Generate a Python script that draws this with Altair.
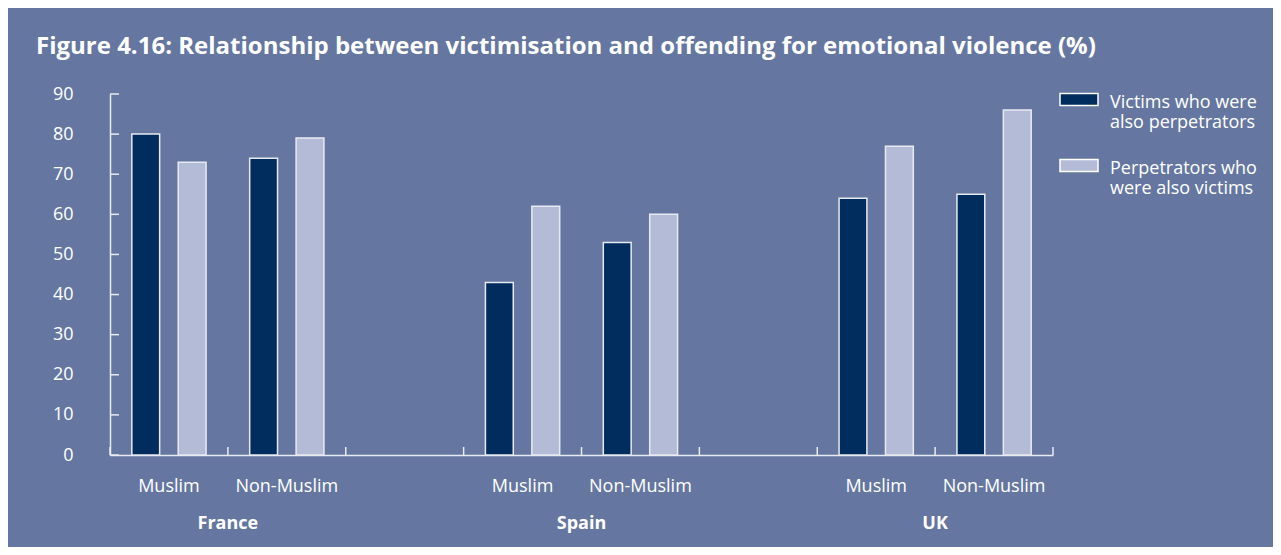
import altair as alt
import pandas as pd

# ---- data ----
countries = ["France", "France", "Spain", "Spain", "UK", "UK"]
groups = ["Muslim", "Non-Muslim", "Muslim", "Non-Muslim", "Muslim", "Non-Muslim"]
victims_also_perpetrators = [80, 74, 43, 53, 64, 65]
perpetrators_also_victims = [73, 79, 62, 60, 77, 86]
series = ["Victims who were also perpetrators", "Perpetrators who were also victims"]
series_lines = [["Victims who were", "also perpetrators"], ["Perpetrators who", "were also victims"]]
slots = ["France|Muslim", "France|Non-Muslim", "gap1",
         "Spain|Muslim", "Spain|Non-Muslim", "gap2",
         "UK|Muslim", "UK|Non-Muslim"]
y_ticks = [0, 10, 20, 30, 40, 50, 60, 70, 80, 90]
country_names = ["France", "Spain", "UK"]
title_text = "Figure 4.16: Relationship between victimisation and offending for emotional violence (%)"

# ---- style ----
BG = "#6577A0"
DARK = "#002C5E"
LIGHT = "#B4BBD6"
LINE = "#E8EAF2"
FONT = "Open Sans"
W, H = 943, 361

rows = []
for c, g, v, p in zip(countries, groups, victims_also_perpetrators, perpetrators_also_victims):
    rows.append({"slot": f"{c}|{g}", "series": series[0], "value": v})
    rows.append({"slot": f"{c}|{g}", "series": series[1], "value": p})
df = pd.DataFrame(rows)

label_expr = (f"datum.label == '{series[0]}' ? {series_lines[0]} : {series_lines[1]}")

x_scale = alt.Scale(domain=slots, paddingInner=0, paddingOuter=0)
y_scale = alt.Scale(domain=[0, 90], nice=False)

x_axis = alt.Axis(labelExpr="indexof(datum.value, '|') > 0 ? split(datum.value, '|')[1] : ''",
                  ticks=False, domainColor=LINE, domainWidth=1.5,
                  labelColor="white", labelFont=FONT, labelFontSize=18,
                  labelPadding=22, labelAngle=0, grid=False, labelLimit=200)
y_axis = alt.Axis(values=y_ticks, ticks=False, domainColor=LINE, domainWidth=1.5,
                  labelColor="white", labelFont=FONT, labelFontSize=18,
                  labelPadding=37, grid=False)

bars = alt.Chart(df).mark_bar(stroke=LINE, strokeWidth=1.5).encode(
    x=alt.X("slot:N", scale=x_scale, sort=slots, title=None, axis=x_axis),
    xOffset=alt.XOffset("series:N", sort=series,
                        scale=alt.Scale(domain=series, paddingInner=0.4, paddingOuter=0.47)),
    y=alt.Y("value:Q", scale=y_scale, title=None, axis=y_axis),
    color=alt.Color("series:N", sort=series,
                    scale=alt.Scale(domain=series, range=[DARK, LIGHT]),
                    legend=alt.Legend(title=None, orient="none", legendX=949, legendY=-20,
                                      labelExpr=label_expr, labelFont=FONT, labelFontSize=18,
                                      labelColor="white", labelLimit=400, labelBaseline="top",
                                      labelOffset=11,
                                      symbolType="M-1,-0.03H1V0.61H-1Z", symbolSize=1444,
                                      symbolStrokeColor="white", symbolStrokeWidth=1.5,
                                      symbolOpacity=1, rowPadding=8)),
)

ytick_df = pd.DataFrame({"value": y_ticks})
yticks = alt.Chart(ytick_df).mark_rule(color=LINE, strokeWidth=1.5).encode(
    y=alt.Y("value:Q", scale=y_scale, title=None, axis=y_axis),
    x=alt.value(0), x2=alt.value(9),
)

xtick_df = pd.DataFrame({"slot": slots})
xticks = alt.Chart(xtick_df).mark_rule(color=LINE, strokeWidth=1.5).encode(
    x=alt.X("slot:N", scale=x_scale, sort=slots, bandPosition=0, title=None, axis=x_axis),
    y=alt.value(H), y2=alt.value(H - 8),
)
xtick_end = alt.Chart(pd.DataFrame({"slot": [slots[-1]]})).mark_rule(color=LINE, strokeWidth=1.5).encode(
    x=alt.X("slot:N", scale=x_scale, sort=slots, bandPosition=1, title=None, axis=x_axis),
    y=alt.value(H), y2=alt.value(H - 8),
)

country_df = pd.DataFrame({"country": country_names,
                           "slot": [f"{c}|Non-Muslim" for c in country_names]})
country_text = alt.Chart(country_df).mark_text(
    font=FONT, fontSize=18, fontWeight="bold", color="white", baseline="middle"
).encode(
    x=alt.X("slot:N", scale=x_scale, sort=slots, bandPosition=0, title=None, axis=x_axis),
    y=alt.value(H + 69),
    text="country:N",
)

chart = alt.layer(bars, yticks, xticks, xtick_end, country_text).properties(
    width=W, height=H,
    background=BG,
    autosize=alt.AutoSizeParams(type="none"),
    padding={"left": 102, "top": 86, "right": 220, "bottom": 92},
    title=alt.TitleParams(title_text, anchor="start", frame="group", dx=-74, offset=15,
                          font=FONT, fontSize=24, fontWeight="bold", color="white"),
).configure_view(stroke=None)

chart.save("out.html", embed_options={"renderer": "svg", "actions": False})
